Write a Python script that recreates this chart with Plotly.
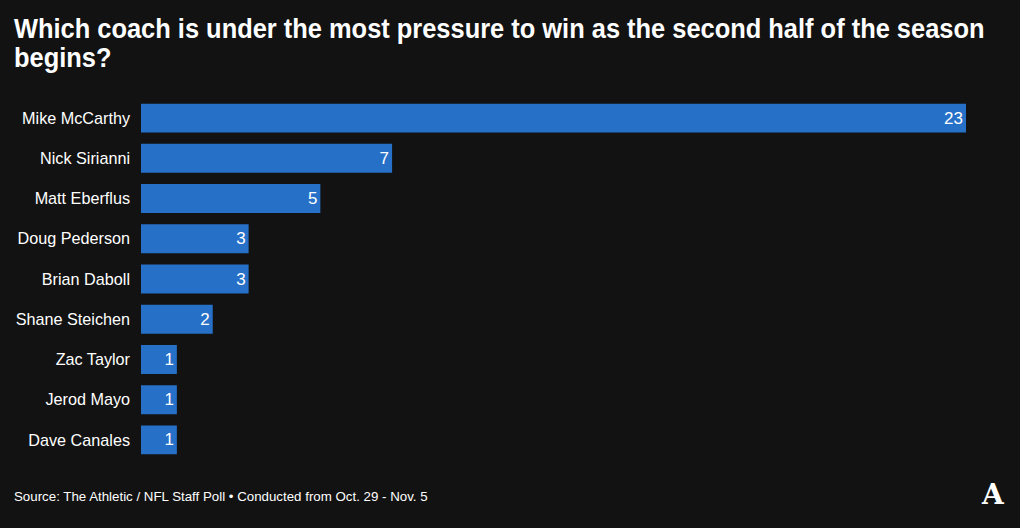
import plotly.graph_objects as go

coaches = ["Mike McCarthy", "Nick Sirianni", "Matt Eberflus", "Doug Pederson", "Brian Daboll",
           "Shane Steichen", "Zac Taylor", "Jerod Mayo", "Dave Canales"]
votes = [23, 7, 5, 3, 3, 2, 1, 1, 1]

title_line1 = "Which coach is under the most pressure to win as the second half of the season"
title_line2 = "begins?"
source_text = "Source: The Athletic / NFL Staff Poll \u2022 Conducted from Oct. 29 - Nov. 5"

BG = "#121212"
BAR = "#2670c8"
W, H = 1020, 528
L, R, T, B = 141, 54, 98, 68
PW, PH = W - L - R, H - T - B
FONT = "Liberation Sans, Arial, sans-serif"

fig = go.Figure(go.Bar(
    x=votes, y=coaches, orientation="h",
    marker=dict(color=BAR, line=dict(width=0)),
    width=0.72,
    text=[str(v) for v in votes], textposition="inside", insidetextanchor="end",
    textfont=dict(color="white", size=17, family=FONT),
    hoverinfo="skip",
))

fig.update_layout(
    width=W, height=H,
    paper_bgcolor=BG, plot_bgcolor=BG,
    margin=dict(l=L, r=R, t=T, b=B),
    showlegend=False,
    uniformtext=dict(minsize=17, mode="show"),
    xaxis=dict(range=[0, 23], visible=False, fixedrange=True),
    yaxis=dict(autorange="reversed", showgrid=False, zeroline=False, showline=False,
               ticks="", ticklabelstandoff=10,
               tickfont=dict(color="white", size=16.2, family=FONT),
               fixedrange=True),
    font=dict(color="white", family=FONT),
)

for i, line in enumerate([title_line1, title_line2]):
    fig.add_annotation(
        text="<b>" + line + "</b>",
        name="title",
        xref="paper", yref="paper",
        x=(12 - L) / PW, y=1 + (T - 11 - 29 * i) / PH,
        xanchor="left", yanchor="top", align="left", showarrow=False,
        font=dict(size=28, color="white", family=FONT),
    )
fig.add_annotation(
    text=source_text,
    xref="paper", yref="paper",
    x=(12 - L) / PW, y=-(496 - (H - B)) / PH,
    xanchor="left", yanchor="middle", align="left", showarrow=False,
    font=dict(size=13.3, color="white", family=FONT),
)
fig.add_annotation(
    text="<b>A</b>",
    xref="paper", yref="paper",
    x=(993 - L) / PW, y=-(494 - (H - B)) / PH,
    xanchor="center", yanchor="middle", showarrow=False,
    font=dict(size=28, color="white", family="DejaVu Serif, Liberation Serif, serif"),
)

post_script = """
document.body.style.margin = '0';
var gd = document.getElementById('{plot_id}');
function condenseTitle() {
  var ts = [];
  gd.querySelectorAll('.annotation-text').forEach(function (t) {
    var c = t.textContent;
    if (c.indexOf('Which coach') === 0 || c === 'begins?') { t.removeAttribute('transform'); ts.push(t); }
  });
  var s = 1;
  ts.forEach(function (t) {
    if (t.textContent.indexOf('Which coach') === 0) { s = 971 / t.getBBox().width; }
  });
  ts.forEach(function (t) {
    var b = t.getBBox();
    t.setAttribute('transform', 'translate(' + b.x + ',0) scale(' + s + ',1) translate(' + (-b.x) + ',0)');
  });
}
condenseTitle();
gd.on('plotly_afterplot', condenseTitle);
"""

fig.write_html("out.html", config={"displayModeBar": False}, post_script=post_script)
